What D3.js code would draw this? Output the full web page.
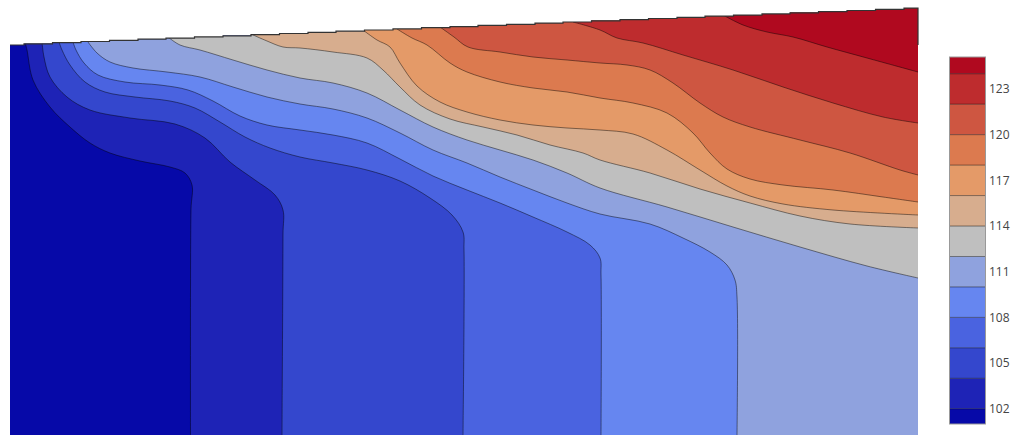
<!DOCTYPE html>
<html>
<head>
<meta charset="utf-8">
<script src="https://cdn.jsdelivr.net/npm/d3@7"></script>
<style>
  body { margin: 0; background: #fff; }
  svg { display: block; }
</style>
</head>
<body>
<svg id="chart" width="1016" height="435"></svg>
<script>
// Contour levels (every 2 units) and the fill colour of each band
const levels = [102, 104, 106, 108, 110, 112, 114, 116, 118, 120, 122, 124];
const bandColors = [
  "#0609a8", "#1e23b6", "#3447cd", "#4a63e0", "#6686f0", "#8fa2de",
  "#bfbfbf", "#d7ad8e", "#e49a68", "#dc7a4f", "#ce5641", "#be2c2e", "#b0091f"
];
const zMin = 101.0;
const zMax = 125.1;
const colorbarTicks = [102, 105, 108, 111, 114, 117, 120, 123];

// Surface profile: column positions (distance) and top elevation of each column
const surfaceX = [0, 28, 57, 85, 114, 142, 170, 199, 227, 255, 284, 312, 340, 369, 397, 426, 454,
  482, 511, 539, 567, 596, 624, 653, 681, 709, 738, 766, 794, 823, 851, 880, 908];
const surfaceElevation = [390, 391.2, 392.3, 393.5, 394.6, 395.8, 396.9, 398.1, 399.2, 400.4, 401.5,
  402.7, 403.8, 405, 406.1, 407.3, 408.4, 409.6, 410.7, 411.9, 413, 414.2, 415.3, 416.5, 417.6,
  418.8, 419.9, 421.1, 422.2, 423.4, 424.5, 425.7, 426.8];
// Elevation down to which the outline continues on the right-hand side
const rightRimElevation = 390;

// Isolines as [distance, elevation] pairs, from the surface down / across
const iso102 = [[15,393],[17,385],[23,355],[40,328],[60,308],[80,292],[100,282],[130,274],[160,268],
  [175,262],[182,250],[181,225],[180.5,0]];
const iso104 = [[32,393],[34,378],[40,358],[57,338],[80,325],[120,317],[165,311],[195,297],[220,273],
  [245,255],[265,240],[273,225],[273,200],[272,0]];
const iso106 = [[49,393],[52,385],[60,370],[75,353],[95,343],[125,338],[160,334],[185,327],[210,313],
  [235,298],[260,287],[290,278],[323,272],[357,265],[390,254],[420,237],[442,220],[453,203],[454,185],[453,0]];
const iso108 = [[63,393],[66,385],[74,372],[88,360],[115,353],[150,350],[178,345],[203,334],[230,319],
  [257,310],[290,305],[323,300],[357,292],[390,276],[423,259],[457,245],[490,232],[523,218],[557,203],
  [580,190],[590,177],[591,160],[591,0]];
const iso110 = [[78,393],[87,382],[100,373],[123,367],[157,363],[190,358],[223,348],[257,338],[290,331],
  [323,326],[357,317],[390,302],[423,285],[457,272],[490,258],[523,245],[557,232],[590,221],[640,211],
  [673,197],[700,183],[717,170],[725,155],[727,138],[727,0]];
const iso112 = [[158,398],[170,390],[190,385],[223,375],[257,365],[290,357],[323,352],[357,342],[390,325],
  [423,308],[457,295],[490,285],[523,275],[557,262],[590,247],[657,228],[723,208],[790,188],[857,169],[908,157]];
const iso114 = [[241,401],[257,394],[273,388],[290,387],[323,383],[357,377],[373,365],[390,348],[410,330],
  [440,316],[473,308],[507,300],[540,290],[573,282],[590,275],[640,262],[690,246],[740,232],[790,219],
  [840,211],[908,207]];
const iso116 = [[353,405],[367,395],[380,388],[390,372],[407,349],[430,333],[457,323],[490,315],[523,310],
  [557,307],[590,305],[623,301],[657,285],[690,265],[717,249],[740,239],[773,231],[823,225],[908,220]];
const iso118 = [[387,406],[402,397],[417,390],[440,372],[457,363],[490,353],[523,347],[557,343],[590,337],
  [623,332],[657,322],[683,302],[700,282],[717,266],[740,256],[773,250],[823,245],[873,238],[908,233]];
const iso120 = [[430,408],[444,398],[458,388],[490,383],[523,378],[557,375],[590,372],[617,370],[640,365],
  [663,352],[690,332],[713,318],[740,308],[790,295],[840,282],[890,265],[908,260]];
const iso122 = [[563,413],[590,405],[607,397],[633,392],[673,380],[723,365],[773,348],[823,332],[873,318],[908,312]];
const iso124 = [[713,420],[733,410],[757,403],[783,398],[817,388],[857,377],[908,363]];
const isolines = [iso102, iso104, iso106, iso108, iso110, iso112, iso114, iso116, iso118, iso120, iso122, iso124];

const svg = d3.select("#chart");

const x = d3.scaleLinear().domain([0, 908]).range([10, 918]);
const y = d3.scaleLinear().domain([0, 427]).range([435, 8]);

// Stair-stepped surface outline (one flat step per column)
const stairs = [];
surfaceX.forEach((sx, i) => {
  const left = i === 0 ? surfaceX[0] : (surfaceX[i - 1] + sx) / 2;
  const right = i === surfaceX.length - 1 ? sx : (sx + surfaceX[i + 1]) / 2;
  stairs.push([left, surfaceElevation[i]], [right, surfaceElevation[i]]);
});

const linear = d3.line().x(d => x(d[0])).y(d => y(d[1]));
const smooth = d3.line().x(d => x(d[0])).y(d => y(d[1])).curve(d3.curveCatmullRom.alpha(0.5));

const xMax = surfaceX[surfaceX.length - 1];
const clipPts = [[0, -20], ...stairs, [xMax, -20]];
svg.append("clipPath").attr("id", "section")
  .append("path").attr("d", linear(clipPts) + "Z");

const plot = svg.append("g").attr("clip-path", "url(#section)");

// Coldest band underneath everything
plot.append("rect")
  .attr("x", x(0)).attr("y", y(440))
  .attr("width", x(xMax) - x(0)).attr("height", y(-20) - y(440))
  .attr("fill", bandColors[0]);

// Each isoline closes around its warm (upper-right) side; painted cold to warm
isolines.forEach((pts, i) => {
  const first = pts[0], last = pts[pts.length - 1];
  const tail = [];
  if (last[1] <= 0) tail.push([last[0], -20], [xMax + 20, -20]);
  else tail.push([xMax + 20, last[1]]);
  tail.push([xMax + 20, 460], [first[0], 460]);
  const closing = tail.map(p => `L${x(p[0])},${y(p[1])}`).join("");
  plot.append("path")
    .attr("d", smooth(pts) + closing + "Z")
    .attr("fill", bandColors[i + 1]);
});

// Isoline strokes
plot.selectAll("path.iso")
  .data(isolines)
  .join("path")
  .attr("class", "iso")
  .attr("d", d => smooth(d))
  .attr("fill", "none")
  .attr("stroke", "rgba(0,0,0,0.45)")
  .attr("stroke-width", 1);

// Surface outline, continuing a short way down the right-hand side
svg.append("path")
  .attr("d", linear([...stairs, [xMax, rightRimElevation]]))
  .attr("fill", "none")
  .attr("stroke", "#333")
  .attr("stroke-width", 1.2);

// Colour bar
const cb = svg.append("g");
const cbX = 949.5, cbW = 36;
const cy = d3.scaleLinear().domain([zMin, zMax]).range([424, 57]);
const edges = [zMin, ...levels, zMax];
cb.selectAll("rect.band")
  .data(bandColors)
  .join("rect")
  .attr("class", "band")
  .attr("x", cbX).attr("width", cbW)
  .attr("y", (d, i) => cy(edges[i + 1]))
  .attr("height", (d, i) => cy(edges[i]) - cy(edges[i + 1]))
  .attr("fill", d => d);
cb.selectAll("line.lvl")
  .data(levels)
  .join("line")
  .attr("class", "lvl")
  .attr("x1", cbX).attr("x2", cbX + cbW)
  .attr("y1", d => cy(d)).attr("y2", d => cy(d))
  .attr("stroke", "rgba(0,0,0,0.45)")
  .attr("stroke-width", 1);
cb.append("rect")
  .attr("x", cbX).attr("y", cy(zMax))
  .attr("width", cbW).attr("height", cy(zMin) - cy(zMax))
  .attr("fill", "none")
  .attr("stroke", "#999")
  .attr("stroke-width", 1);
cb.selectAll("text.tick")
  .data(colorbarTicks)
  .join("text")
  .attr("class", "tick")
  .attr("x", cbX + cbW + 3.5)
  .attr("y", d => cy(d))
  .attr("dy", "0.35em")
  .attr("font-family", "'Open Sans', sans-serif")
  .attr("font-size", 12)
  .attr("fill", "#444")
  .text(d => d);
</script>
</body>
</html>
